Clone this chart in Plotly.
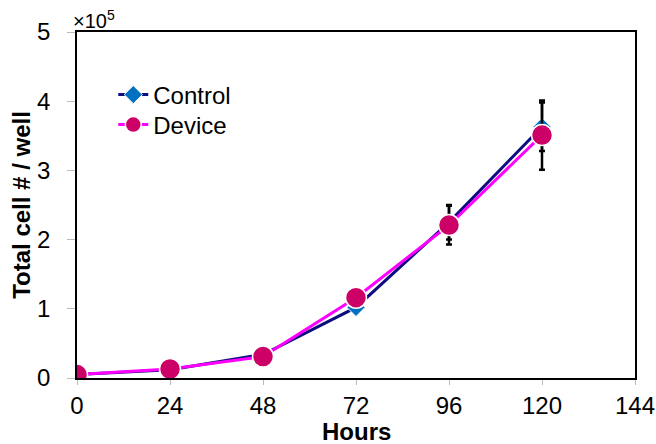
import plotly.graph_objects as go

hours = [0, 24, 48, 72, 96, 120]
control = [0.05, 0.12, 0.34, 1.02, 2.25, 3.63]
control_err = [0.01, 0.02, 0.03, 0.04, 0.25, 0.35]
device = [0.05, 0.13, 0.31, 1.16, 2.21, 3.51]
device_err = [0.01, 0.02, 0.03, 0.04, 0.28, 0.50]
x_ticks = [0, 24, 48, 72, 96, 120, 144]
y_ticks = [0, 1, 2, 3, 4, 5]

font = "Liberation Sans, Arial, sans-serif"

fig = go.Figure()
fig.add_trace(go.Scatter(
    x=hours, y=control, name="Control", mode="lines+markers",
    line=dict(color="#0d0d80", width=3),
    marker=dict(symbol="diamond", size=14, color="#0070C0", line=dict(color="white", width=1)),
    error_y=dict(type="data", array=control_err, color="black", thickness=2.5, width=3),
    legend="legend",
))
fig.add_trace(go.Scatter(
    x=hours, y=device, name="Device", mode="lines+markers",
    line=dict(color="#ff00ff", width=3),
    marker=dict(symbol="circle", size=21, color="#CC0066", line=dict(color="white", width=1.5)),
    error_y=dict(type="data", array=device_err, color="black", thickness=2.5, width=3),
    legend="legend2",
))

leg_common = dict(xanchor="left", yanchor="middle", bgcolor="rgba(0,0,0,0)",
                  font=dict(size=24, family=font), itemwidth=30)

fig.update_layout(
    width=656, height=444,
    margin=dict(l=77, r=21, t=32, b=66, autoexpand=False),
    paper_bgcolor="white", plot_bgcolor="white",
    font=dict(family=font, size=24, color="black"),
    showlegend=True,
    legend=dict(x=0.065, y=(378 - 95) / 346, **leg_common),
    legend2=dict(x=0.065, y=(378 - 125) / 346, **leg_common),
    xaxis=dict(range=[0, 144], tickvals=x_ticks, ticks="outside", ticklen=5,
               tickcolor="#bbbbbb", showgrid=False, zeroline=False,
               showline=True, linecolor="black", linewidth=1.5, mirror=True,
               ticklabelstandoff=0, automargin=False, ticklabeloverflow="allow",
               tickfont=dict(size=24)),
    yaxis=dict(range=[0, 5], tickvals=y_ticks, ticks="outside", ticklen=8,
               tickcolor="#bbbbbb", showgrid=False, zeroline=False,
               showline=True, linecolor="black", linewidth=1.5, mirror=True,
               ticklabelstandoff=12, automargin=False, ticklabeloverflow="allow",
               title=dict(text="<b>Total cell # / well</b>", standoff=0, font=dict(size=24)),
               tickfont=dict(size=24)),
)
fig.add_annotation(text="<b>Hours</b>", xref="paper", yref="paper", x=0.5, y=-0.155,
                   xanchor="center", yanchor="middle", showarrow=False, borderpad=0,
                   font=dict(size=24, family=font))
fig.add_annotation(text="×10<sup>5</sup>", xref="paper", yref="paper", x=0.0, y=1.0,
                   xanchor="left", yanchor="bottom", showarrow=False,
                   font=dict(size=20, family=font), xshift=-6, yshift=-2)

fig.write_html("out.html")
